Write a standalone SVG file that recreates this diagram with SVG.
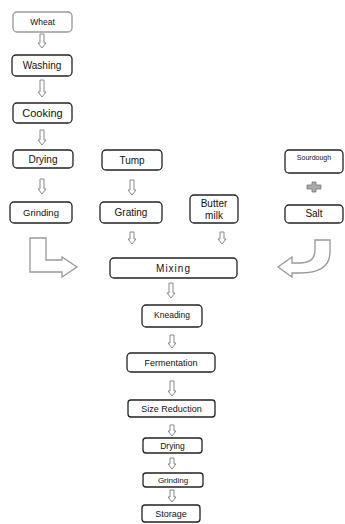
<svg xmlns="http://www.w3.org/2000/svg" width="345" height="524" viewBox="0 0 345 524">
<style>
.box{fill:#fff;stroke:#222;stroke-width:1.3}
.light{stroke:#999}
.t{font-family:"Liberation Sans",Arial,sans-serif;fill:#111;text-anchor:middle;dominant-baseline:central}
.arr{fill:#fff;stroke:#888;stroke-width:1}
.big{fill:#fff;stroke:#999;stroke-width:1.3}
</style>
<rect width="345" height="524" fill="#fff"/>
<g id="connectors">
<path class="arr" d="M40,34H44V43H46L42,48L38,43H40Z"/>
<path class="arr" d="M40,80H44V92H46L42,97L38,92H40Z"/>
<path class="arr" d="M40,130H44V140H46L42,145L38,140H40Z"/>
<path class="arr" d="M40,179H44V189H46L42,194L38,189H40Z"/>
<path class="arr" d="M130,180H134V190H136L132,195L128,190H130Z"/>
<path class="arr" d="M130,232H134V239H136L132,244L128,239H130Z"/>
<path class="arr" d="M220,232H224V239H226L222,244L218,239H220Z"/>
<path class="arr" d="M169,283H173V293H175L171,298L167,293H169Z"/>
<path class="arr" d="M170,335H174V343H176L172,348L168,343H170Z"/>
<path class="arr" d="M170,381H174V391H176L172,396L168,391H170Z"/>
<path class="arr" d="M170,425H174V431H176L172,436L168,431H170Z"/>
<path class="arr" d="M170,458H174V464H176L172,469L168,464H170Z"/>
<path class="arr" d="M170,490H174V497H176L172,502L168,497H170Z"/>
<path class="big" d="M30,238H46V260H62V257L77,267L62,277V272H30Z"/>
<path class="big" d="M315,240H330V252Q330,273 300,273H292V277L278,267L292,257V263H300Q315,263 315,250Z"/>
<path d="M307,185H312V182H316V185H321V189H316V192H312V189H307Z" fill="#aaa" stroke="#777" stroke-width="0.8"/>
</g>
<g id="wheat"><rect class="box light" x="13" y="12" width="59" height="20" rx="4"/><text class="t" x="42.5" y="22" font-size="8.5">Wheat</text></g>
<g id="washing"><rect class="box" x="12" y="55" width="60" height="21" rx="4"/><text class="t" x="42" y="65.5" font-size="10">Washing</text></g>
<g id="cooking"><rect class="box" x="13" y="103" width="59" height="20" rx="4"/><text class="t" x="42.5" y="113" font-size="11">Cooking</text></g>
<g id="drying1"><rect class="box" x="13" y="150" width="60" height="18" rx="4"/><text class="t" x="43" y="159" font-size="10">Drying</text></g>
<g id="grinding1"><rect class="box" x="10" y="202" width="62" height="21" rx="4"/><text class="t" x="41" y="212.5" font-size="9.5">Grinding</text></g>
<g id="tump"><rect class="box" x="102" y="150" width="60" height="20" rx="4"/><text class="t" x="132" y="160" font-size="10">Tump</text></g>
<g id="grating"><rect class="box" x="100" y="202" width="62" height="21" rx="4"/><text class="t" x="131" y="212.5" font-size="10">Grating</text></g>
<g id="buttermilk"><rect class="box" x="190" y="195" width="48" height="28" rx="4"/><text class="t" x="214" y="203" font-size="10">Butter</text><text class="t" x="214" y="215" font-size="10">milk</text></g>
<g id="sourdough"><rect class="box" x="285" y="150" width="58" height="23" rx="4"/><text class="t" x="314" y="157" font-size="7">Sourdough</text></g>
<g id="salt"><rect class="box" x="285" y="205" width="58" height="18" rx="4"/><text class="t" x="314" y="213" font-size="10">Salt</text></g>
<g id="mixing"><rect class="box" x="110" y="258" width="127" height="20" rx="4"/><text class="t" x="173.5" y="268" font-size="10" letter-spacing="1">Mixing</text></g>
<g id="kneading"><rect class="box" x="142" y="305" width="60" height="22" rx="4"/><text class="t" x="172" y="315" font-size="8.5">Kneading</text></g>
<g id="fermentation"><rect class="box" x="127" y="353" width="88" height="19" rx="4"/><text class="t" x="171" y="362.5" font-size="9">Fermentation</text></g>
<g id="sizereduction"><rect class="box" x="128" y="400" width="87" height="17" rx="3"/><text class="t" x="171.5" y="408.5" font-size="9">Size Reduction</text></g>
<g id="drying2"><rect class="box" x="143" y="438" width="59" height="15" rx="3"/><text class="t" x="172.5" y="445.5" font-size="8.5">Drying</text></g>
<g id="grinding2"><rect class="box" x="143" y="473" width="60" height="14" rx="3"/><text class="t" x="173" y="480" font-size="8">Grinding</text></g>
<g id="storage"><rect class="box" x="142" y="505" width="58" height="17" rx="3"/><text class="t" x="171" y="513.5" font-size="9">Storage</text></g>
</svg>
